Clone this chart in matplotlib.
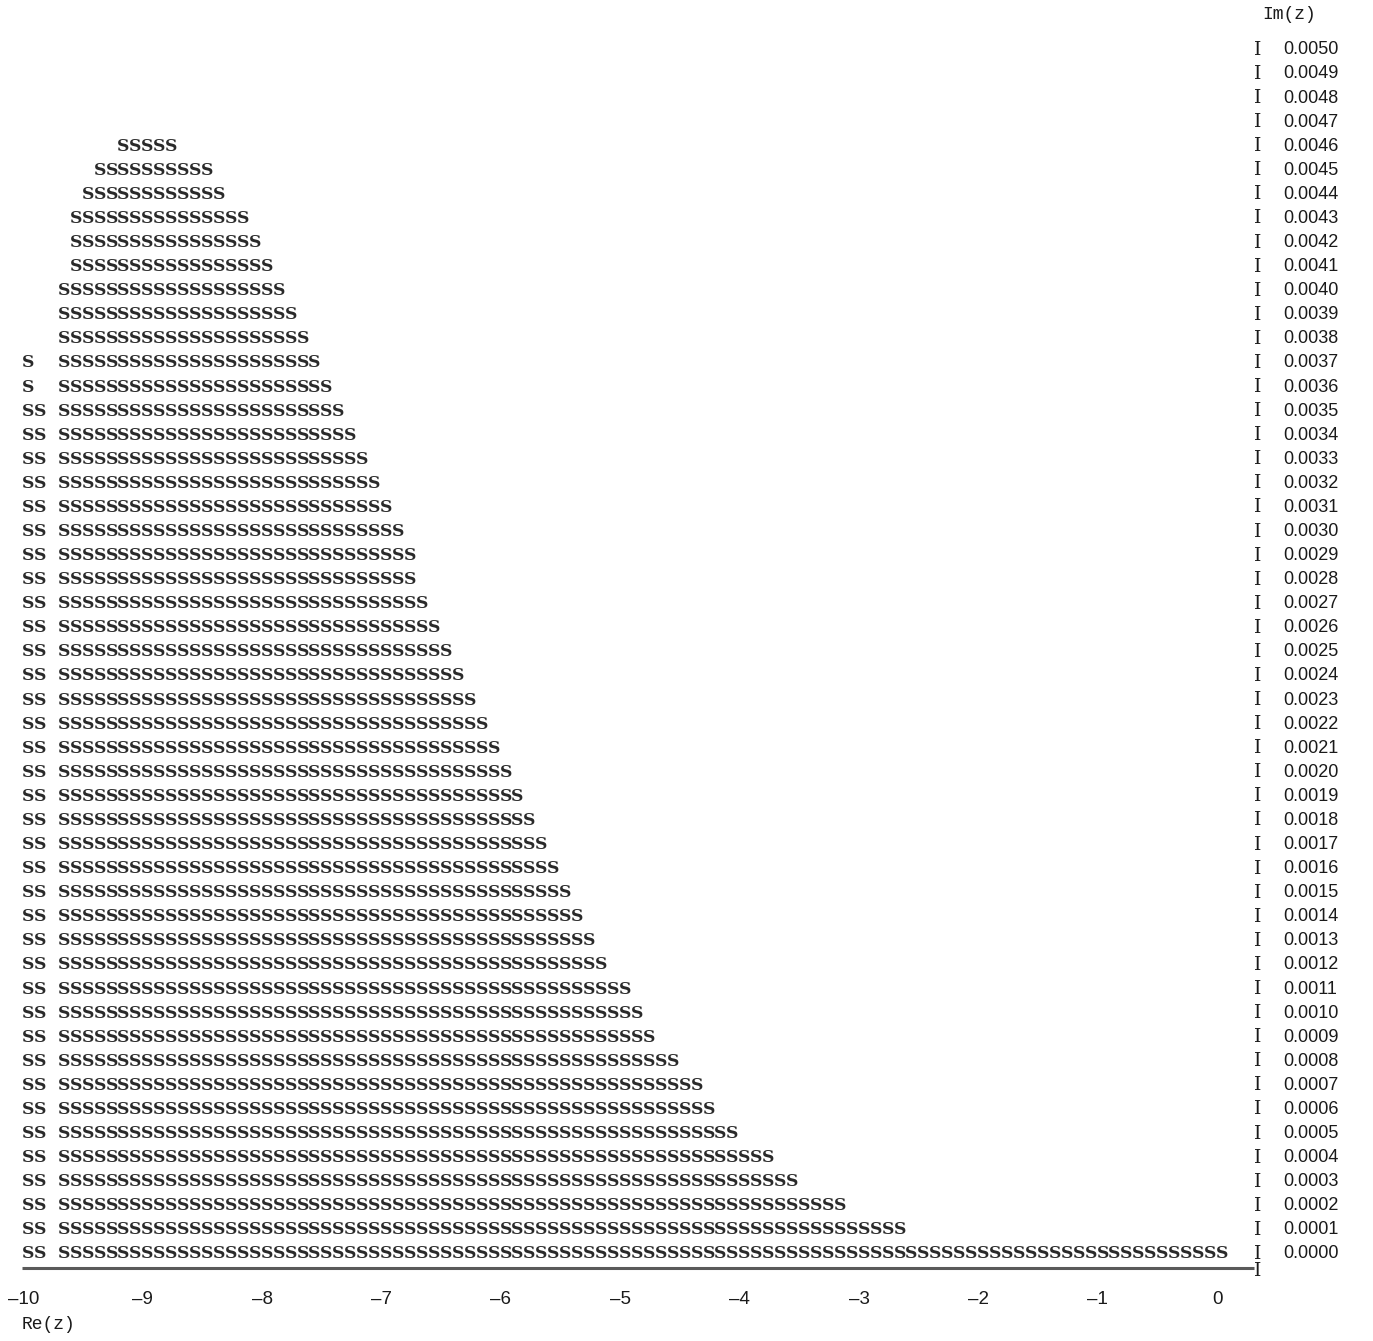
import numpy as np
import matplotlib
matplotlib.use("Agg")
import matplotlib.pyplot as plt

# === DATA ===
# each printed row: Im(z) level, first and last Re(z) of the main run of S,
# and how many S sit at the left edge (Re = -10.0, -9.9)
row_im = [0.0046, 0.0045, 0.0044, 0.0043, 0.0042, 0.0041, 0.0040, 0.0039,
          0.0038, 0.0037, 0.0036, 0.0035, 0.0034, 0.0033, 0.0032, 0.0031,
          0.0030, 0.0029, 0.0028, 0.0027, 0.0026, 0.0025, 0.0024, 0.0023,
          0.0022, 0.0021, 0.0020, 0.0019, 0.0018, 0.0017, 0.0016, 0.0015,
          0.0014, 0.0013, 0.0012, 0.0011, 0.0010, 0.0009, 0.0008, 0.0007,
          0.0006, 0.0005, 0.0004, 0.0003, 0.0002, 0.0001, 0.0000]
run_first = [-9.2, -9.4, -9.5, -9.6, -9.6, -9.6] + [-9.7] * 41
run_last = [-8.8, -8.5, -8.4, -8.2, -8.1, -8.0, -7.9, -7.8,
            -7.7, -7.6, -7.5, -7.4, -7.3, -7.2, -7.1, -7.0,
            -6.9, -6.8, -6.8, -6.7, -6.6, -6.5, -6.4, -6.3,
            -6.2, -6.1, -6.0, -5.9, -5.8, -5.7, -5.6, -5.5,
            -5.4, -5.3, -5.2, -5.0, -4.9, -4.8, -4.6, -4.4,
            -4.3, -4.1, -3.8, -3.6, -3.2, -2.7, 0.0]
edge_count = [0] * 9 + [1, 1] + [2] * 36

im_ticks = [k / 10000 for k in range(51)]
re_ticks = list(range(-10, 1))

STEP = 0.1  # one printer column in Re(z)

S_FONT = "DejaVu Serif"
NUM_FONT = "Liberation Sans"
MONO_FONT = "Liberation Mono"
INK = "#1a1a1a"


def main():
    fig = plt.figure(figsize=(13.73, 13.41), dpi=100)
    ax = fig.add_axes([0, 0, 1, 1])
    ax.set_xlim(-10.2345, 1.2647)
    ax.set_ylim(-0.000370, 0.005199)
    ax.axis("off")

    # the S characters, one per printer column
    for im, a, b, n in zip(row_im, run_first, run_last, edge_count):
        cols = np.arange(round((a + 10) / STEP), round((b + 10) / STEP) + 1)
        xs = [-10 + k * STEP for k in range(n)] + list(-10 + cols * STEP)
        for x in xs:
            ax.text(x, im, "S", fontsize=12.3, family=S_FONT, weight="bold",
                    color="#2a2a2a", ha="center", va="center_baseline")

    # right hand Im(z) scale
    for v in im_ticks:
        ax.text(0.30, v, "I", fontsize=13.5, family="DejaVu Serif", color=INK,
                ha="center", va="center_baseline")
        ax.text(0.51, v, f"{v:.4f}", fontsize=13, family=NUM_FONT,
                color=INK, ha="left", va="center_baseline")
    ax.text(0.335, 0.005137, "Im(z)", fontsize=13, family=MONO_FONT,
            color=INK, ha="left", va="center")

    # bottom Re(z) axis
    y_axis = -0.0000664
    ax.plot([-10.05, 0.27], [y_axis, y_axis], color="#5a5a5a", lw=2.2,
            solid_capstyle="butt")
    ax.text(0.30, y_axis - 0.000004, "I", fontsize=13.5, family="DejaVu Serif",
            color=INK, ha="center", va="center_baseline")
    for t in re_ticks:
        lab = "0" if t == 0 else "\u2013" + str(abs(t))
        ax.text(t - 0.04, -0.000199, lab, fontsize=13.5, family=NUM_FONT,
                color=INK, ha="center", va="center")
    ax.text(-10.05, -0.000303, "Re(z)", fontsize=13, family=MONO_FONT,
            color=INK, ha="left", va="center")

    fig.savefig("out.png", dpi=100)


if __name__ == "__main__":
    main()
